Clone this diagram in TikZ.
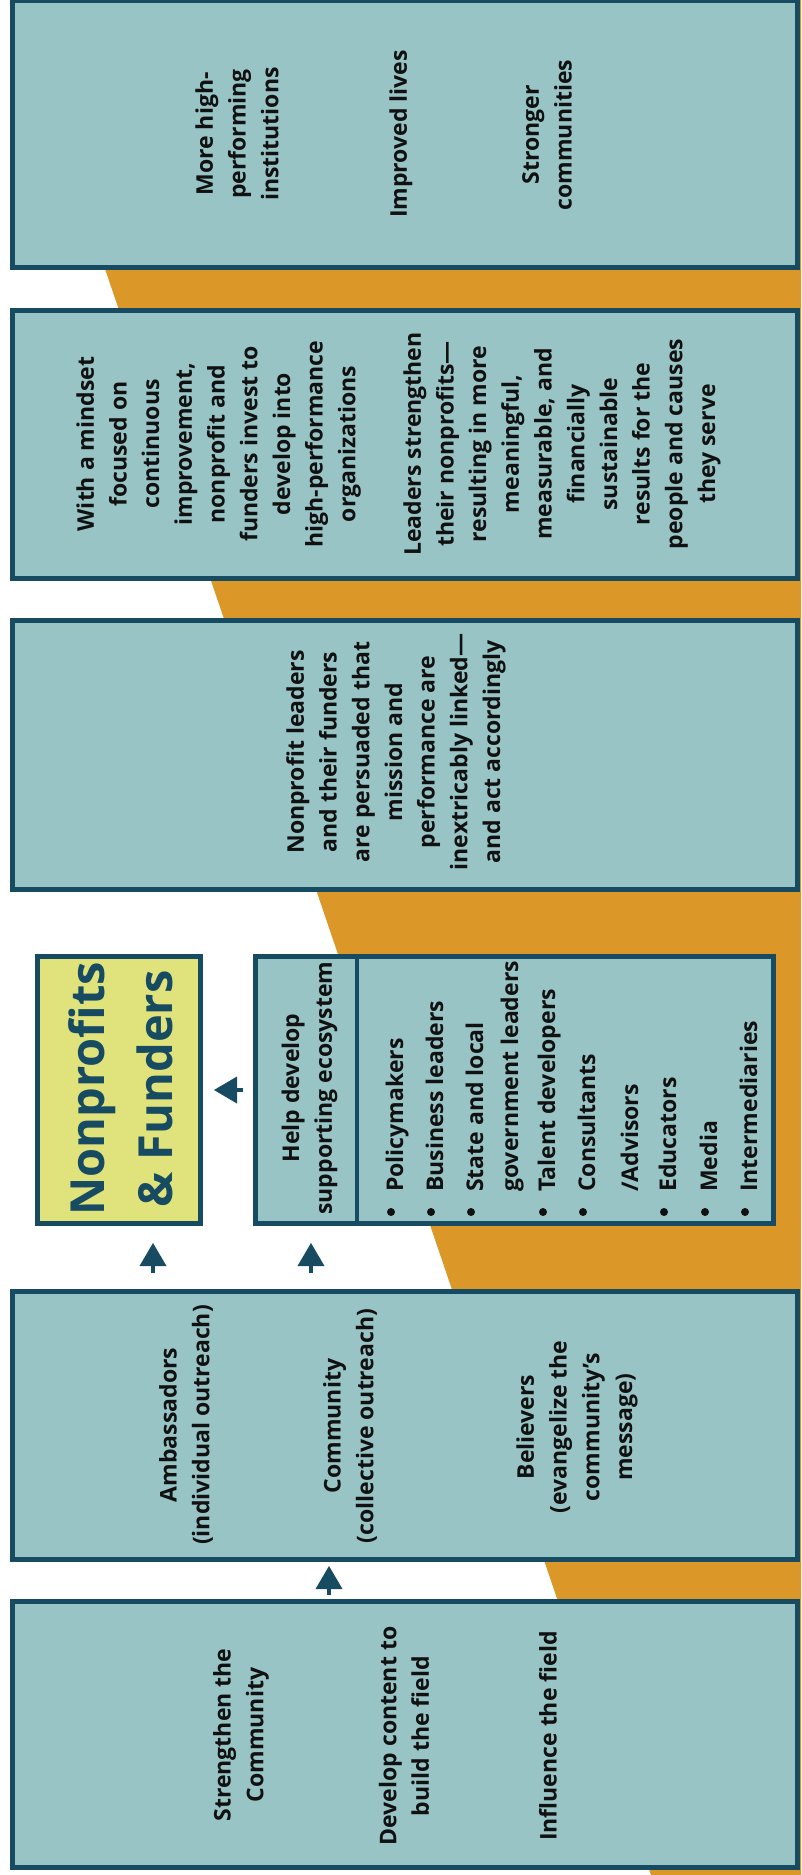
\documentclass[tikz,border=0pt]{standalone}
\usepackage{fontspec}
\setmainfont{Open Sans}
\usetikzlibrary{arrows.meta}
\definecolor{bord}{HTML}{164B62}
\definecolor{tealfill}{HTML}{98C4C6}
\definecolor{orng}{HTML}{DB9828}
\definecolor{yelfill}{HTML}{E0E27B}
\definecolor{txt}{HTML}{111111}
\begin{document}
\begin{tikzpicture}[x=1pt,y=-1pt,
  panel/.style={draw=bord, line width=5pt, fill=tealfill, inner sep=0pt},
  lbl/.style={rotate=90, align=center, text=txt, inner sep=0pt,
    font=\bfseries\fontsize{23}{32.7}\selectfont},
  item/.style={rotate=90, anchor=base west, text=txt, inner sep=0pt,
    font=\bfseries\fontsize{23}{32.7}\selectfont},
  arr/.style={draw=bord, line width=3.3pt, shorten <=4pt, shorten >=4pt,
    -{Triangle[length=23pt,width=27pt,line width=0pt]}}]
\useasboundingbox (0,0) rectangle (801,1875);
\fill[white] (0,0) rectangle (801,1875);
\fill[orng] (13.6,0) -- (801,0) -- (801,1875) -- (651,1875) -- cycle;

% boxes
\node[panel, minimum width=785pt, minimum height=267pt] (b1) at (405,134) {};
\node[panel, minimum width=785pt, minimum height=268pt] (b2) at (405,444.5) {};
\node[panel, minimum width=785pt, minimum height=269pt] (b3) at (405,755) {};
\node[panel, fill=yelfill, minimum width=163pt, minimum height=267pt] (yel) at (119,1090) {};
\node[panel, minimum width=518pt, minimum height=267pt] (help) at (514.5,1090) {};
\node[panel, minimum width=785pt, minimum height=268pt] (b4) at (405,1425.5) {};
\node[panel, minimum width=785pt, minimum height=266pt] (b5) at (405,1734.5) {};

% divider in help box
\coordinate (dv) at (357,1090);
\draw[bord, line width=4.3pt] (dv |- help.north) -- (dv |- help.south);

% box 1 texts
\node[lbl] (t1a) at (237,134) {More high-\\performing\\institutions};
\node[lbl] (t1b) at (401,134) {Improved lives};
\node[lbl] (t1c) at (547,135) {Stronger\\communities};

% box 2 text
\node[lbl] (t2) at (398.5,444) {With a mindset\\focused on\\continuous\\improvement,\\nonprofit and\\funders invest to\\develop into\\high-performance\\organizations\\[32.7pt]Leaders strengthen\\their nonprofits—\\resulting in more\\meaningful,\\measurable, and\\financially\\sustainable\\results for the\\people and causes\\they serve};

% box 3 text
\node[lbl] (t3) at (396,752) {Nonprofit leaders\\and their funders\\are persuaded that\\mission and\\performance are\\inextricably linked—\\and act accordingly};

% yellow box text
\node[rotate=90, align=center, text=bord, inner sep=0pt,
  font=\bfseries\fontsize{47}{68}\selectfont] (tyel) at (121,1089) {Nonprofits\\\& Funders};

% help box
\node[lbl] (thelp) at (309.5,1088) {Help develop\\supporting ecosystem};
\node[item] (i1) at (403,1192) {Policymakers};
\node[item] (i2) at (443,1192) {Business leaders};
\node[item] (i3) at (483,1192) {State and local};
\node[item] (i3b) at (518,1192) {government leaders};
\node[item] (i4) at (555,1192) {Talent developers};
\node[item] (i5) at (595,1192) {Consultants};
\node[item] (i5b) at (638,1192) {/Advisors};
\node[item] (i6) at (676,1192) {Educators};
\node[item] (i7) at (717,1192) {Media};
\node[item] (i8) at (757,1192) {Intermediaries};
\foreach \bx in {391,431,471,543,583,664,705,745}
  \fill[txt] (\bx,1212) circle (4pt);

% box 4 texts
\node[lbl] (t4a) at (186,1425) {Ambassadors\\(individual outreach)};
\node[lbl] (t4b) at (350,1426) {Community\\(collective outreach)};
\node[lbl] (t4c) at (577,1427) {Believers\\(evangelize the\\community’s\\message)};

% box 5 texts
\node[lbl] (t5a) at (241,1735) {Strengthen the\\Community};
\node[lbl] (t5b) at (404,1736) {Develop content to\\build the field};
\node[lbl] (t5c) at (548,1736) {Influence the field};

% arrows
\coordinate (ax1) at (153,1250);
\coordinate (ax2) at (311,1250);
\coordinate (ax3) at (329,1580);
\draw[arr, shorten <=16pt, shorten >=17pt] (ax1 |- b4.north) -- (ax1 |- yel.south);
\draw[arr, shorten <=16pt, shorten >=17pt] (ax2 |- b4.north) -- (ax2 |- help.south);
\draw[arr] (ax3 |- b5.north) -- (ax3 |- b4.south);
\draw[arr, shorten <=10pt, shorten >=11pt] (help.west) -- (yel.east);
\end{tikzpicture}
\end{document}
